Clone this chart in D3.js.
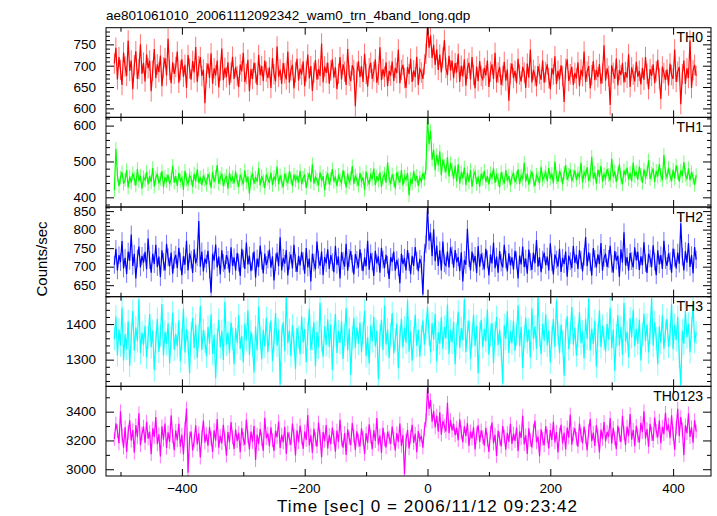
<!DOCTYPE html>
<html><head><meta charset="utf-8">
<script src="https://cdn.jsdelivr.net/npm/d3@7"></script>
<style>html,body{margin:0;padding:0;background:#fff;} svg{display:block;font-family:"Liberation Sans",Arial,Helvetica,sans-serif;}</style>
</head><body><svg id="c" width="717" height="516"></svg>
<script>
const title = "ae801061010_20061112092342_wam0_trn_4band_long.qdp";
const xLabel = "Time [sec] 0 = 2006/11/12 09:23:42";
const yLabel = "Counts/sec";
const bandNames = ["TH0", "TH1", "TH2", "TH3", "TH0123"];
const bandColors = ["#ff0000", "#00ff00", "#0000ff", "#00ffff", "#ff00ff"];
const timeStart = -510, binWidth = 2.5;
const xDomain = [-523.6, 461.7];
const xMajorTicks = [-400, -200, 0, 200, 400];
const xMinorTicks = [-500, -300, -100, 100, 300];
const yDomains = [[579, 789], [373, 623], [619, 861], [1225, 1477], [2953, 3576]];
const yMajorTicks = [[600, 650, 700, 750], [400, 500, 600], [650, 700, 750, 800, 850], [1300, 1400], [3000, 3200, 3400]];
const yMinorStep = [10, 20, 10, 20, 100];
const errHalf = [24, 19, 24, 32, 48];

const th0 = [
705,742,668,720,690,655,731,698,676,759,688,712,645,701,734,669,692,750,681,707,
663,726,694,712,640,688,739,671,703,685,724,652,696,718,677,763,690,659,708,681,
697,733,660,689,715,674,702,648,725,693,667,711,684,744,662,699,720,676,691,612,
682,705,671,729,658,694,677,712,649,688,740,666,695,673,708,655,684,721,669,697,
676,650,703,687,730,662,681,714,640,692,669,707,683,655,725,678,699,664,712,686,
671,696,648,718,680,663,745,674,691,657,706,682,668,733,660,689,702,647,685,716,
665,693,679,710,652,687,726,670,699,641,684,713,667,692,676,752,661,698,683,707,
658,689,715,672,696,645,681,720,668,703,686,655,739,677,664,701,690,605,684,711,
673,699,662,728,681,651,694,707,669,686,715,660,679,743,666,692,674,708,652,688,
677,710,664,695,683,738,659,690,702,671,648,697,680,716,662,689,673,721,655,692,
684,669,703,728,795,742,771,718,749,702,738,690,726,684,719,760,695,678,723,689,
712,671,706,684,728,662,700,675,715,653,693,707,668,720,678,647,698,664,711,676,
668,695,677,712,650,686,703,669,730,661,684,697,655,676,709,665,691,618,682,705,
671,688,659,716,679,663,697,684,648,705,672,738,661,690,676,652,699,681,667,712,
660,685,703,671,645,694,679,722,657,688,668,701,676,615,693,715,664,680,697,655,
683,670,708,652,691,675,733,662,686,699,647,678,711,666,690,673,704,658,682,748,
665,694,676,608,701,683,669,717,654,690,678,706,661,685,672,727,650,696,679,663,
709,674,688,656,695,667,720,681,645,692,676,703,659,687,714,670,622,698,683,666,
691,654,705,678,669,738,662,686,697,610,680,712,657,694,671,759,648,689,702,676
];
const th1 = [
420,535,462,431,455,470,438,449,476,427,458,441,467,452,433,479,445,460,424,456,
448,471,436,459,443,482,430,454,466,439,451,473,428,457,445,463,437,450,488,441,
459,432,468,446,455,421,474,449,437,462,453,429,466,444,478,440,456,434,461,448,
435,465,452,427,471,443,457,490,438,454,466,431,449,460,424,468,445,456,439,472,
447,429,463,451,436,475,442,458,410,453,467,438,455,444,481,433,459,446,426,464,
452,440,469,434,457,448,486,436,461,445,428,466,450,439,472,455,431,463,447,458,
441,474,437,455,462,426,451,468,443,492,438,457,449,433,470,446,459,420,454,467,
436,452,479,444,458,431,463,449,440,475,455,427,466,442,453,487,437,461,448,432,
468,445,456,421,472,449,438,463,451,480,434,459,446,470,429,455,466,441,498,452,
437,464,448,425,470,454,441,476,433,458,449,467,405,452,438,473,446,460,432,455,
444,468,450,482,622,548,585,505,532,476,518,490,528,462,505,487,470,512,458,495,
478,451,488,445,492,438,470,453,483,434,468,442,476,429,461,471,437,458,430,466,
451,474,443,459,436,467,455,481,440,462,449,428,470,453,438,476,446,460,433,457,
469,442,455,478,437,461,450,496,444,466,435,458,472,447,431,463,454,440,485,449,
458,470,445,482,452,466,439,500,456,443,474,461,437,468,490,449,463,478,445,459,
475,448,467,455,496,441,470,459,484,446,462,513,452,469,438,477,457,488,444,465,
453,479,462,447,508,458,472,443,466,492,455,437,475,461,483,450,468,445,497,459,
472,449,486,463,440,478,456,469,503,451,466,480,443,474,458,492,462,448,518,467,
456,483,461,445,477,452,489,468,444,475,459,498,463,450,481,447,470,455,435,462
];
const th2 = [
705,748,690,731,712,769,695,724,680,741,716,787,702,735,668,722,754,698,729,711,
740,693,776,718,684,735,707,759,699,727,672,744,713,690,762,725,701,738,681,719,
732,696,751,714,677,728,705,770,690,736,719,683,747,709,726,823,700,741,687,722,
708,743,692,630,735,716,760,698,727,679,744,710,693,731,718,684,752,702,725,689,
737,711,675,748,721,694,765,706,730,688,714,741,670,722,699,757,716,682,735,704,
719,746,697,728,663,712,738,701,779,690,724,708,745,676,716,733,695,759,710,686,
729,703,740,715,681,750,698,722,660,735,711,693,768,719,702,741,677,726,709,747,
694,731,712,685,756,705,727,668,739,716,700,762,689,723,742,708,679,734,718,697,
747,713,688,725,701,770,692,736,714,675,743,709,728,684,751,719,696,732,705,667,
726,712,741,689,718,699,655,735,707,724,690,745,713,680,729,702,753,716,688,721,
706,625,738,760,858,770,792,728,801,715,757,702,744,690,768,709,703,741,698,752,
731,697,745,712,726,688,739,660,718,705,802,723,690,741,711,729,683,756,700,735,
714,693,748,720,676,733,709,765,696,727,684,742,711,698,759,719,687,736,704,725,
692,743,717,668,730,706,754,699,722,681,746,713,691,738,709,772,700,726,685,719,
738,704,727,690,763,712,679,733,719,700,748,686,724,707,741,673,730,715,696,756,
710,732,694,745,718,687,727,780,701,739,712,676,750,721,698,733,707,764,689,724,
735,699,721,756,708,684,742,716,730,672,747,711,793,703,726,689,737,715,698,752,
717,740,691,728,704,766,710,683,735,722,699,758,713,677,744,706,731,694,770,718,
702,736,715,684,749,724,695,738,708,817,727,690,742,711,764,699,731,682,753,719
];
const th3 = [
1358,1421,1312,1385,1340,1446,1298,1372,1330,1408,1283,1365,1437,1325,1390,1352,1470,1318,1376,1341,
1395,1306,1362,1428,1335,1381,1270,1349,1415,1322,1368,1456,1311,1378,1344,1402,1289,1361,1432,1328,
1372,1338,1410,1295,1357,1443,1320,1386,1348,1261,1375,1417,1332,1398,1305,1366,1451,1327,1383,1351,
1309,1392,1345,1427,1316,1370,1248,1356,1412,1334,1381,1299,1463,1342,1376,1318,1404,1359,1287,1388,
1347,1425,1330,1366,1292,1401,1355,1439,1313,1379,1340,1264,1393,1326,1449,1362,1301,1384,1337,1418,
1321,1373,1410,1296,1352,1431,1339,1384,1230,1367,1405,1324,1478,1346,1382,1310,1397,1350,1274,1389,
1363,1315,1421,1348,1386,1293,1373,1442,1328,1359,1405,1281,1378,1334,1460,1352,1308,1394,1341,1413,
1336,1399,1271,1365,1428,1319,1380,1347,1408,1302,1370,1445,1326,1387,1257,1361,1418,1333,1391,1345,
1404,1322,1375,1438,1310,1363,1289,1396,1351,1420,1337,1381,1245,1368,1412,1327,1452,1343,1385,1305,
1372,1431,1318,1356,1401,1276,1364,1415,1334,1390,1348,1467,1322,1379,1297,1361,1426,1339,1383,1308,
1366,1410,1342,1388,1449,1371,1320,1402,1356,1428,1295,1377,1345,1419,1331,1392,1360,1455,1316,1384,
1348,1406,1287,1372,1435,1333,1389,1355,1470,1321,1378,1410,1302,1366,1427,1339,1395,1262,1374,1412,
1335,1386,1352,1441,1314,1369,1403,1290,1375,1420,1341,1384,1328,1233,1397,1358,1436,1319,1380,1346,
1409,1325,1371,1453,1338,1392,1276,1363,1418,1349,1385,1306,1444,1357,1393,1331,1476,1368,1315,1401,
1353,1427,1340,1381,1292,1365,1414,1336,1466,1374,1318,1398,1350,1255,1383,1422,1329,1375,1448,1342,
1390,1311,1367,1433,1346,1379,1303,1415,1358,1471,1326,1387,1344,1409,1280,1370,1438,1335,1396,1360,
1323,1401,1357,1446,1332,1384,1269,1368,1425,1340,1392,1313,1459,1351,1378,1307,1416,1363,1440,1338,
1386,1345,1412,1298,1370,1429,1352,1399,1320,1376,1473,1339,1405,1360,1287,1393,1347,1424,1331,1381,
1414,1336,1372,1456,1329,1398,1355,1420,1308,1228,1382,1345,1437,1363,1401,1321,1388,1452,1349,1376
];
const th0123 = [
3210,3318,3265,3180,3402,3236,3150,3291,3120,3255,3340,3198,3272,3115,3306,3224,3389,3167,3248,3296,
3182,3330,3213,3260,3105,3284,3225,3362,3174,3242,3089,3298,3205,3318,3148,3256,3190,3374,3227,3132,
3268,3201,3315,3156,3240,3103,3283,3422,2975,3214,3262,3130,3198,3306,3172,3250,3081,3227,3339,3185,
3244,3163,3294,3216,3120,3271,3199,3348,3150,3232,3180,3309,3208,3094,3258,3186,3327,3221,3141,3276,
3195,3253,3118,3286,3210,3170,3345,3228,3137,3262,3189,3301,3064,3239,3175,3280,3207,3128,3357,3216,
3248,3160,3291,3201,3127,3267,3222,3332,3148,3240,3186,3293,3107,3256,3213,3170,3318,3233,3095,3270,
3188,3304,3219,3142,3262,3203,3376,3165,3235,3114,3281,3209,3157,3325,3228,3083,3259,3196,3307,3144,
3237,3174,3289,3220,3122,3268,3190,3343,3206,3150,3252,3099,3277,3215,3168,3321,3232,3134,3264,3200,
3159,3284,3218,3106,3249,3183,3312,3227,3140,3270,3196,3355,3171,3234,3113,3288,3206,3152,3260,3221,
3176,3297,3213,3130,3251,3190,3318,3162,3238,2965,3201,3274,3145,3226,3309,3183,3247,3118,3265,3204,
3232,3150,3280,3340,3565,3420,3480,3330,3405,3290,3372,3260,3395,3240,3334,3300,3262,3462,3250,3342,
3270,3315,3236,3289,3201,3347,3255,3188,3299,3230,3320,3162,3261,3214,3291,3137,3248,3306,3190,3270,
3223,3164,3287,3205,3120,3256,3324,3179,3240,3092,3268,3212,3158,3300,3229,3135,3253,3190,3315,3176,
3248,3197,3290,3126,3262,3218,3371,3173,3236,3107,3284,3203,3152,3269,3336,3188,3225,3090,3277,3213,
3166,3299,3231,3145,3272,3204,3330,3186,3259,3116,3242,3308,3179,3254,3138,3290,3220,3380,3170,3246,
3285,3211,3157,3318,3237,3180,3297,3225,3133,3266,3349,3195,3254,3162,3306,3230,3117,3275,3209,3328,
3193,3260,3226,3355,3178,3287,3214,3140,3302,3240,3189,3371,3252,3168,3296,3229,3383,3205,3274,3160,
3301,3234,3185,3322,3258,3402,3213,3279,3156,3316,3245,3197,3359,3264,3222,3338,3180,3295,3244,3392,
3268,3310,3215,3374,3247,3135,3288,3420,3230,3362,3276,3098,3305,3251,3388,3224,3292,3184,3340,3262
];
const seriesValues = [th0, th1, th2, th3, th0123];

const svg = d3.select("#c");
svg.append("rect").attr("width", 717).attr("height", 516).attr("fill", "#fff");
const L = 106, R = 711, T = 27.7, B = 476;
const ph = (B - T) / 5;
const x = d3.scaleLinear().domain(xDomain).range([L, R]);
const tAt = i => timeStart + i * binWidth;
const fmt = d3.format("d");
const tickFont = 13.5;

function styleAxis(g) {
  g.attr("font-family", null).attr("font-size", null);
  g.select(".domain").remove();
  g.selectAll(".tick line").attr("stroke", "#000").attr("stroke-width", 1);
  g.selectAll("text").attr("fill", "#000").style("font-size", tickFont + "px");
}

seriesValues.forEach((vals, k) => {
  const top = T + k * ph, bot = top + ph;
  const color = bandColors[k];
  const y = d3.scaleLinear().domain(yDomains[k]).range([bot, top]);
  const clipId = "clip" + k;
  svg.append("clipPath").attr("id", clipId).append("rect")
    .attr("x", L).attr("y", top).attr("width", R - L).attr("height", ph);
  const g = svg.append("g").attr("clip-path", `url(#${clipId})`);
  g.selectAll("line.err").data(vals).join("line").attr("class", "err")
    .attr("x1", (d, i) => x(tAt(i))).attr("x2", (d, i) => x(tAt(i)))
    .attr("y1", d => y(d - errHalf[k])).attr("y2", d => y(d + errHalf[k]))
    .attr("stroke", color).attr("stroke-opacity", 0.55).attr("stroke-width", 1);
  g.append("path").datum(vals)
    .attr("d", d3.line().x((d, i) => x(tAt(i))).y(d => y(d)))
    .attr("fill", "none").attr("stroke", color).attr("stroke-width", 1.2);

  const minor = d3.range(Math.ceil(yDomains[k][0] / yMinorStep[k]) * yMinorStep[k], yDomains[k][1], yMinorStep[k])
    .filter(v => !yMajorTicks[k].includes(v));
  svg.append("g").attr("transform", `translate(${L},0)`)
    .call(d3.axisLeft(y).tickValues(yMajorTicks[k]).tickSize(-8).tickPadding(10).tickFormat(fmt))
    .call(styleAxis);
  svg.append("g").attr("transform", `translate(${L},0)`)
    .call(d3.axisLeft(y).tickValues(minor).tickSize(-4).tickFormat(""))
    .call(styleAxis);
  svg.append("g").attr("transform", `translate(${R},0)`)
    .call(d3.axisRight(y).tickValues(yMajorTicks[k]).tickSize(-8).tickFormat(""))
    .call(styleAxis);
  svg.append("g").attr("transform", `translate(${R},0)`)
    .call(d3.axisRight(y).tickValues(minor).tickSize(-4).tickFormat(""))
    .call(styleAxis);
  svg.append("g").attr("transform", `translate(0,${top})`)
    .call(d3.axisTop(x).tickValues(xMajorTicks).tickSize(-7).tickFormat(""))
    .call(styleAxis);
  svg.append("g").attr("transform", `translate(0,${top})`)
    .call(d3.axisTop(x).tickValues(xMinorTicks).tickSize(-4).tickFormat(""))
    .call(styleAxis);
  svg.append("g").attr("transform", `translate(0,${bot})`)
    .call(d3.axisBottom(x).tickValues(xMajorTicks).tickSize(-7).tickPadding(7)
      .tickFormat(k === seriesValues.length - 1 ? fmt : ""))
    .call(styleAxis);
  svg.append("g").attr("transform", `translate(0,${bot})`)
    .call(d3.axisBottom(x).tickValues(xMinorTicks).tickSize(-4).tickFormat(""))
    .call(styleAxis);
  svg.append("rect").attr("x", L).attr("y", top).attr("width", R - L).attr("height", ph)
    .attr("fill", "none").attr("stroke", "#000").attr("stroke-width", 1);
  svg.append("text").attr("x", R - 8).attr("y", top + 14.5).attr("text-anchor", "end")
    .style("font-size", "14px").attr("fill", "#000").text(bandNames[k]);
});

svg.append("text").attr("x", L).attr("y", 19.5).style("font-size", "13.5px").attr("fill", "#000").text(title);
svg.append("text").attr("x", 427).attr("y", 512).attr("text-anchor", "middle")
  .attr("textLength", 300).attr("lengthAdjust", "spacing")
  .style("font-size", "17px").attr("fill", "#000").text(xLabel);
svg.append("text").attr("transform", `translate(47,259) rotate(-90)`).attr("text-anchor", "middle")
  .style("font-size", "15px").attr("fill", "#000").text(yLabel);
</script></body></html>
